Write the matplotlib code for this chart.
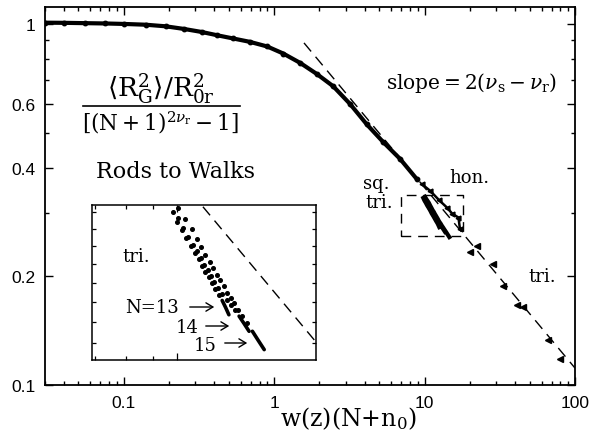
import matplotlib
matplotlib.use("Agg")
import matplotlib.pyplot as plt
from matplotlib.ticker import LogLocator, FixedLocator, NullFormatter, FixedFormatter
from matplotlib.lines import Line2D
from matplotlib.patches import FancyArrowPatch

plt.rcParams['mathtext.fontset'] = 'dejavuserif'

# Collapsed curve (all lattices, small w)
main_x = [0.030, 0.040, 0.055, 0.075, 0.10, 0.14, 0.19, 0.25, 0.33, 0.42, 0.53,
          0.69, 0.90, 1.15, 1.49, 1.92, 2.47, 3.20, 4.13, 5.33, 6.87, 8.87]
main_y = [1.008, 1.007, 1.005, 1.003, 1.000, 0.995, 0.985, 0.969, 0.950, 0.930, 0.912,
          0.892, 0.866, 0.828, 0.780, 0.727, 0.672, 0.600, 0.527, 0.470, 0.423, 0.372]

# Honeycomb / square branch near the guide line and large-w points
hon_x = [9.6, 10.9, 12.5, 14.1, 15.3, 16.8, 17.2]
hon_y = [0.360, 0.345, 0.325, 0.310, 0.298, 0.291, 0.270]
far_x = [20.1, 22.3, 28.5, 33.2, 41.2, 45.1, 66.2, 79.5]
far_y = [0.2335, 0.243, 0.216, 0.188, 0.167, 0.164, 0.133, 0.118]

# Triangular lattice, N = 13, 14, 15
n13_x = [9.81, 9.99, 10.21, 10.40, 10.62, 10.82, 10.98, 11.14, 11.31, 11.48, 11.65,
         11.82, 11.99, 12.17, 12.35, 12.53]
n13_y = [0.3295, 0.3241, 0.3192, 0.3145, 0.3101, 0.3061, 0.3027, 0.2990, 0.2959,
         0.2929, 0.2897, 0.2866, 0.2836, 0.2808, 0.2773, 0.2736]
n14_x = [10.06, 10.28, 10.51, 10.71, 10.90, 11.10, 11.26, 11.43, 11.60, 11.77, 11.94,
         12.17, 12.41, 12.62, 12.85, 13.10, 13.39, 13.68]
n14_y = [0.3261, 0.3202, 0.3154, 0.3107, 0.3070, 0.3033, 0.2996, 0.2966, 0.2934,
         0.2902, 0.2873, 0.2843, 0.2812, 0.2787, 0.2758, 0.2729, 0.2692, 0.2655]
n15_x = [10.06, 10.36, 10.67, 10.90, 11.10, 11.31, 11.53, 11.70, 11.91, 12.08, 12.26,
         12.44, 12.62, 12.81, 13.03, 13.29, 13.54, 13.88, 14.23, 14.61]
n15_y = [0.3321, 0.3255, 0.3197, 0.3140, 0.3097, 0.3051, 0.3014, 0.2978, 0.2942,
         0.2912, 0.2881, 0.2847, 0.2821, 0.2796, 0.2762, 0.2729, 0.2696, 0.2655,
         0.2612, 0.2568]

# Asymptotic guide line, slope -1/2
guide_x = [1.58, 100.0]
guide_y = [0.886, 0.1114]

# Zoom window shown in the inset
box_x = [6.95, 18.0]
box_y = [0.259, 0.335]

xticks = [0.1, 1, 10, 100]
xtick_labels = ['0.1', '1', '10', '100']
yticks = [0.1, 0.2, 0.4, 0.6, 1.0]
ytick_labels = ['0.1', '0.2', '0.4', '0.6', '1']
yminor = [0.3, 0.5, 0.7, 0.8, 0.9]

W, H = 593, 439
fig = plt.figure(figsize=(W / 100, H / 100), dpi=100)


def fx(px):
    return px / W


def fy(py):
    return 1 - py / H


ax = fig.add_axes([fx(45), fy(386), fx(575) - fx(45), fy(8) - fy(386)])
ax.set_xscale('log')
ax.set_yscale('log')
ax.set_xlim(0.03, 100)
ax.set_ylim(0.1, 1.114)

ax.xaxis.set_major_locator(FixedLocator(xticks))
ax.xaxis.set_major_formatter(FixedFormatter(xtick_labels))
ax.xaxis.set_minor_locator(LogLocator(base=10, subs=range(2, 10)))
ax.xaxis.set_minor_formatter(NullFormatter())
ax.yaxis.set_major_locator(FixedLocator(yticks))
ax.yaxis.set_major_formatter(FixedFormatter(ytick_labels))
ax.yaxis.set_minor_locator(FixedLocator(yminor))
ax.yaxis.set_minor_formatter(NullFormatter())
ax.tick_params(which='both', direction='in', top=True, right=True, width=1.0)
ax.tick_params(which='major', length=6)
ax.tick_params(axis='x', which='major', pad=7)
ax.tick_params(axis='y', which='major', pad=7)
ax.tick_params(which='minor', length=3)
for lab in ax.get_xticklabels() + ax.get_yticklabels():
    lab.set_fontfamily('Liberation Sans')
    lab.set_fontsize(12.5)
for sp in ax.spines.values():
    sp.set_linewidth(1.3)

# data
ax.plot(main_x, main_y, '-', color='black', lw=3.0, solid_capstyle='round', zorder=3)
ax.plot(main_x, main_y, 'o', color='black', ms=3.2, zorder=3)
ax.plot(hon_x, hon_y, '-', color='black', lw=1.8, zorder=3)
ax.plot(hon_x, hon_y, '<', color='black', ms=3.5, zorder=3)
ax.plot(far_x, far_y, '<', color='black', ms=4, zorder=3, ls='none')
for xs, ys in [(n13_x, n13_y), (n14_x, n14_y), (n15_x, n15_y)]:
    ax.plot(xs, ys, '-', color='black', lw=3.0, zorder=3)

ax.plot(guide_x, guide_y, color='black', lw=1.0, dashes=(8, 5))
ax.plot([box_x[0], box_x[1], box_x[1], box_x[0], box_x[0]],
        [box_y[0], box_y[0], box_y[1], box_y[1], box_y[0]],
        color='black', lw=1.0, dashes=(7, 5))

serif = dict(family='DejaVu Serif', color='black')
fig.text(fx(348), fy(419), r'w(z)(N+n$_0$)', ha='center', va='center',
         fontsize=17, **serif)
fig.text(fx(161), fy(89), r'$\langle\mathrm{R_G^2}\rangle/\mathrm{R_{0r}^2}$',
         ha='center', va='center', fontsize=19, **serif)
fig.add_artist(Line2D([fx(83), fx(240)], [fy(107), fy(107)], color='black', lw=1.2))
fig.text(fx(161), fy(123), r'$[(\mathrm{N}+1)^{2\nu_\mathrm{r}}-1]$',
         ha='center', va='center', fontsize=15.5, **serif)
fig.text(fx(175), fy(172), 'Rods to Walks', ha='center', va='center', fontsize=16, **serif)
fig.text(fx(472), fy(83), r'slope$=2(\nu_\mathrm{s}-\nu_\mathrm{r})$',
         ha='center', va='center', fontsize=14.5, **serif)
fig.text(fx(376), fy(184), 'sq.', ha='center', va='center', fontsize=13, **serif)
fig.text(fx(379), fy(203), 'tri.', ha='center', va='center', fontsize=13, **serif)
fig.text(fx(469), fy(178), 'hon.', ha='center', va='center', fontsize=13, **serif)
fig.text(fx(542), fy(277), 'tri.', ha='center', va='center', fontsize=13, **serif)

# inset
axin = fig.add_axes([fx(92), fy(361), fx(316) - fx(92), fy(206) - fy(361)])
axin.set_xscale('log')
axin.set_yscale('log')
axin.set_xlim(6.91, 18.3)
axin.set_ylim(0.252, 0.334)
axin.xaxis.set_major_formatter(NullFormatter())
axin.xaxis.set_minor_formatter(NullFormatter())
axin.yaxis.set_major_formatter(NullFormatter())
axin.yaxis.set_minor_formatter(NullFormatter())
axin.tick_params(which='both', direction='in', top=True, right=True, width=0.9)
axin.tick_params(which='major', length=5)
axin.tick_params(which='minor', length=3)
for sp in axin.spines.values():
    sp.set_linewidth(1.1)

for xs, ys in [(n13_x, n13_y), (n14_x, n14_y), (n15_x, n15_y)]:
    axin.plot(xs[:-3], ys[:-3], 'o', color='black', ms=2.6, ls='none')
    axin.plot(xs[-3:], ys[-3:], '-', color='black', lw=2.6, solid_capstyle='round')
axin.plot(guide_x, guide_y, color='black', lw=1.0, dashes=(8, 5))

fig.text(fx(136), fy(257), 'tri.', ha='center', va='center', fontsize=13, **serif)
fig.text(fx(152), fy(308), 'N=13', ha='center', va='center', fontsize=13, **serif)
fig.text(fx(187), fy(328), '14', ha='center', va='center', fontsize=13, **serif)
fig.text(fx(205), fy(346), '15', ha='center', va='center', fontsize=13, **serif)
for x0, x1, yy in [(187, 217, 308), (203, 232, 327), (222, 250, 344)]:
    fig.add_artist(FancyArrowPatch(
        (fx(x0), fy(yy)), (fx(x1), fy(yy)), transform=fig.transFigure,
        arrowstyle='->,head_length=5,head_width=3', color='black', lw=1.0))

fig.savefig('out.png', dpi=100)
